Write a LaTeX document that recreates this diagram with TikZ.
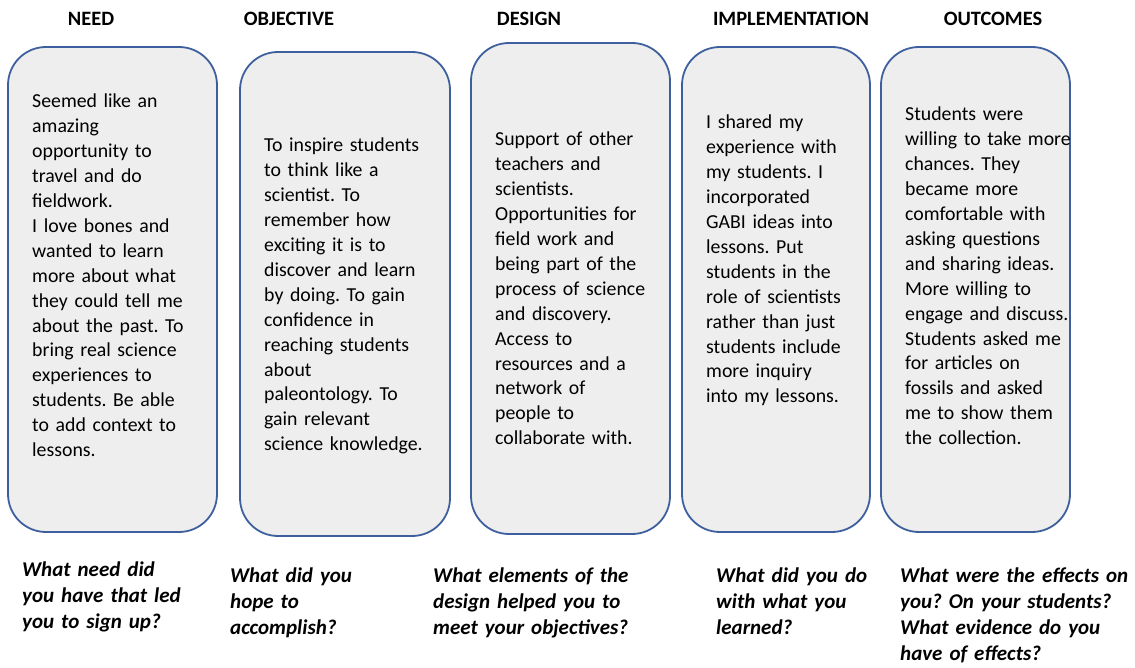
\documentclass[tikz,border=0pt]{standalone}
\usepackage{fontspec}
\setmainfont{Carlito}
\usetikzlibrary{positioning}
\definecolor{cardfill}{HTML}{EEEEEE}
\definecolor{cardline}{HTML}{3E5F9E}
\frenchspacing

\begin{document}
\begin{tikzpicture}[x=1pt,y=-1pt,
  card/.style={rectangle,rounded corners=38pt,draw=cardline,fill=cardfill,line width=1.8pt,inner sep=0pt},
  head/.style={font=\fontsize{20.4}{24}\selectfont\bfseries,anchor=base,inner sep=0pt},
  body/.style={font=\fontsize{19.8}{24.9}\selectfont,anchor=base west,align=left,inner sep=0pt,text width=190pt},
  ask/.style={font=\fontsize{21}{26}\selectfont\bfseries\itshape,anchor=base west,align=left,inner sep=0pt,text width=240pt}]

\useasboundingbox (0,0) rectangle (1135,668);

% columns
\foreach \n/\x/\y/\w/\h in {need/112.5/289.5/209/485, obj/345/294/210/484,
    design/570.5/288.5/199/491, impl/776/289.5/188/485, out/975.5/289.5/189/485}
  \node[card,minimum width=\w pt,minimum height=\h pt] (\n) at (\x,\y) {};

% headings
\node[head] (needhd) at (91,26) {NEED};
\node[head] (objhd) at (289,26) {OBJECTIVE};
\node[head] (designhd) at (529,26) {DESIGN};
\node[head] (implhd) at (791,26) {IMPLEMENTATION};
\node[head] (outhd) at (993,26) {OUTCOMES};

% card texts
\node[body] (needtxt) at (32,108) {Seemed like an\\ amazing\\ opportunity to\\ travel and do\\ fieldwork.\\
  I love bones and\\ wanted to learn\\ more about what\\ they could tell me\\ about the past. To\\
  bring real science\\ experiences to\\ students. Be able\\ to add context to\\ lessons.};
\node[body] (objtxt) at (264,152) {To inspire students\\ to think like a\\ scientist. To\\ remember how\\
  exciting it is to\\ discover and learn\\ by doing. To gain\\ confidence in\\ reaching students\\
  about\\ paleontology. To\\ gain relevant\\ science knowledge.};
\node[body] (designtxt) at (495,146) {Support of other\\ teachers and\\ scientists.\\ Opportunities for\\
  field work and\\ being part of the\\ process of science\\ and discovery.\\ Access to\\
  resources and a\\ network of\\ people to\\ collaborate with.};
\node[body] (impltxt) at (706,129) {I shared my\\ experience with\\ my students. I\\ incorporated\\
  GABI ideas into\\ lessons. Put\\ students in the\\ role of scientists\\ rather than just\\
  students include\\ more inquiry\\ into my lessons.};
\node[body] (outtxt) at (905,121) {Students were\\ willing to take more\\ chances. They\\ became more\\
  comfortable with\\ asking questions\\ and sharing ideas.\\ More willing to\\ engage and discuss.\\
  Students asked me\\ for articles on\\ fossils and asked\\ me to show them\\ the collection.};

% questions
\node[ask] (needq) at (22,576) {What need did\\ you have that led\\ you to sign up?};
\node[ask] (objq) at (230,582) {What did you\\ hope to\\ accomplish?};
\node[ask] (designq) at (433,582) {What elements of the\\ design helped you to\\ meet your objectives?};
\node[ask] (implq) at (716,582) {What did you do\\ with what you\\ learned?};
\node[ask] (outq) at (900,582) {What were the effects on\\ you? On your students?\\ What evidence do you\\ have of effects?};
\end{tikzpicture}
\end{document}
